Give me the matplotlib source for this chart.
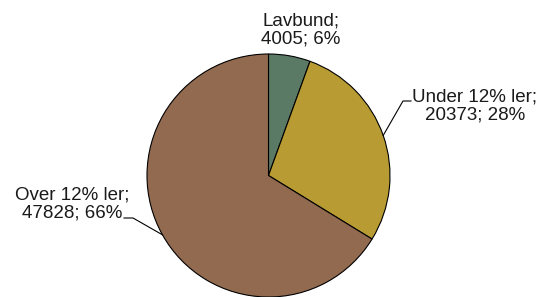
import numpy as np
import matplotlib
matplotlib.use("Agg")
import matplotlib.pyplot as plt

categories = ["Lavbund", "Under 12% ler", "Over 12% ler"]
values = [4005, 20373, 47828]
percents = ["6%", "28%", "66%"]
colors = ["#5b7a66", "#b89b32", "#926a50"]

W, H = 543, 297
fig = plt.figure(figsize=(W / 100, H / 100), dpi=100)
ax = fig.add_axes([0, 0, 1, 1])

cx, cy, r = 268.5, H - 175.5, 121.5
wedges, _ = ax.pie(values, colors=colors, startangle=90, counterclock=False,
                   center=(cx, cy), radius=r, frame=True,
                   wedgeprops=dict(edgecolor="black", linewidth=0.8))
ax.set_xlim(0, W)
ax.set_ylim(0, H)
ax.set_aspect("equal")
ax.axis("off")

font = dict(family=["Liberation Sans", "DejaVu Sans"], fontsize=13.5, color="#1a1a1a",
            ha="center", va="center", linespacing=1.12)
labels = [f"{c};\n{v}; {p}" for c, v, p in zip(categories, values, percents)]

def edge_point(w):
    a = np.deg2rad((w.theta1 + w.theta2) / 2)
    return cx + r * np.cos(a), cy + r * np.sin(a)

# Lavbund
ax.text(301, H - 30, labels[0], **font)
# Under 12% ler
ex, ey = edge_point(wedges[1])
ax.plot([ex, 403, 411], [ey, H - 101, H - 101], color="black", lw=0.8)
ax.text(475, H - 106, labels[1], **font)
# Over 12% ler
ex, ey = edge_point(wedges[2])
ax.plot([ex, 133, 124], [ey, H - 218, H - 218], color="black", lw=0.8)
ax.text(72, H - 204, labels[2], **font)

fig.savefig("out.png", dpi=100)
